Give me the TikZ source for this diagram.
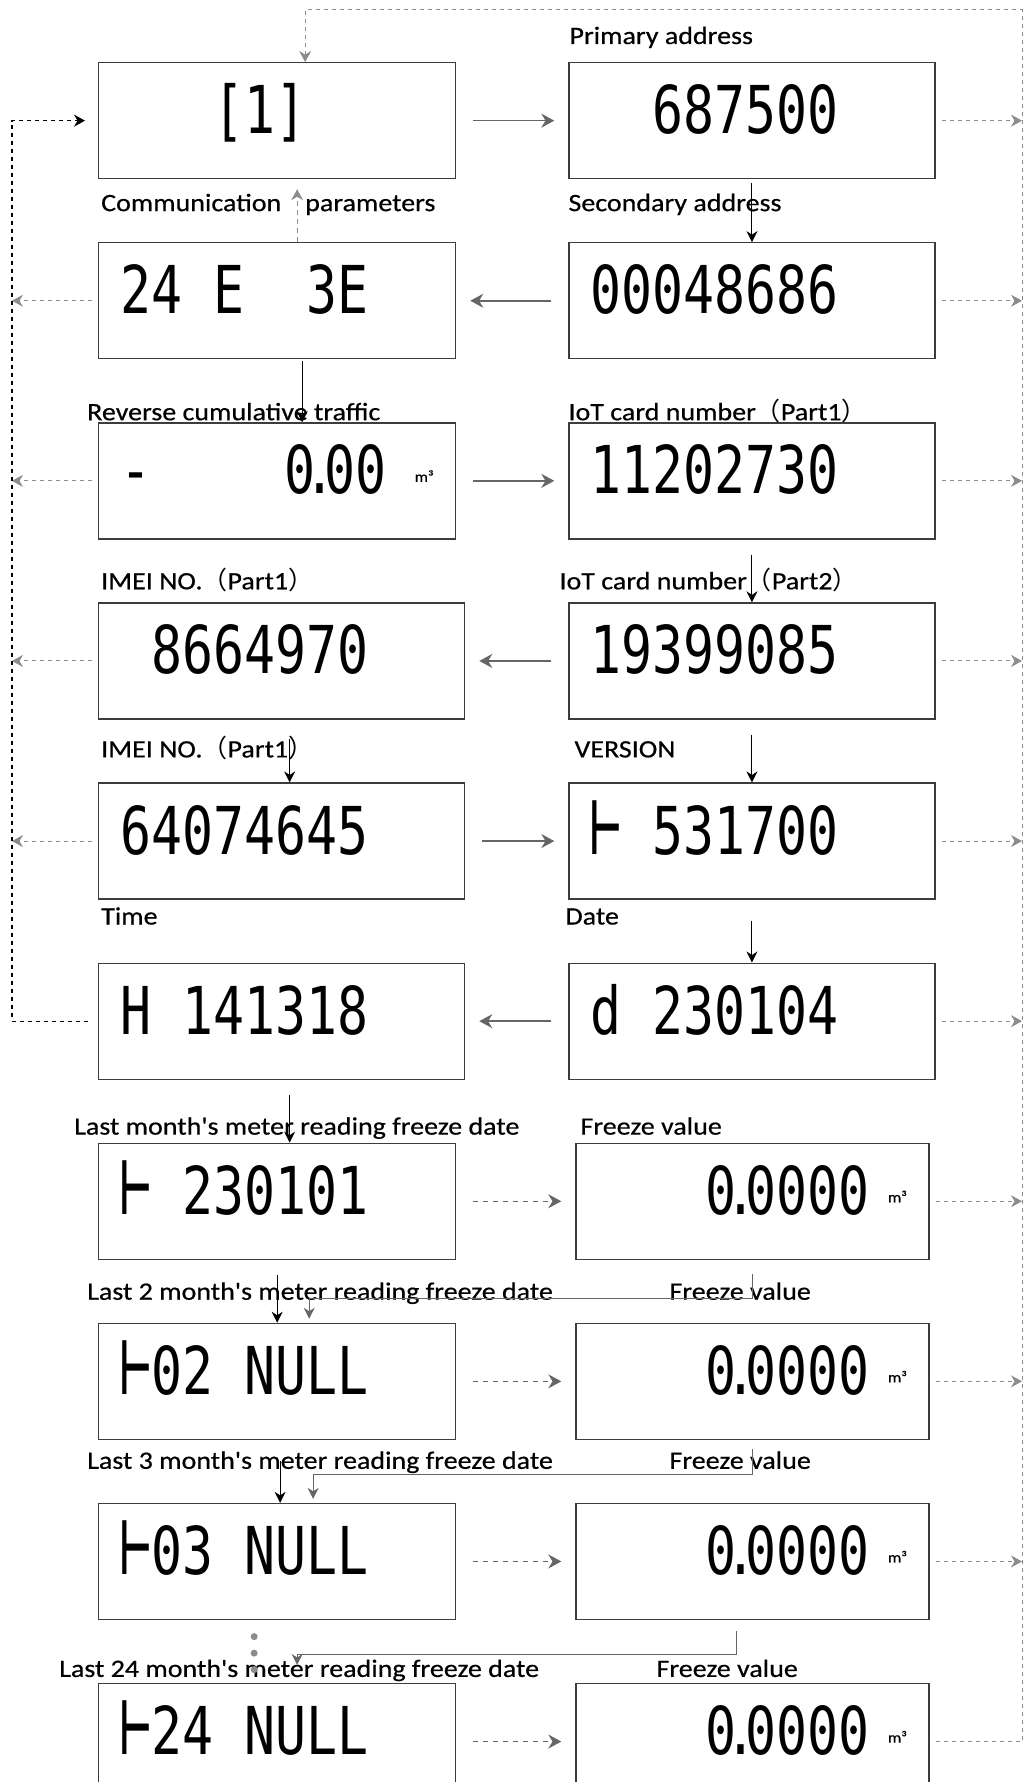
\documentclass[tikz,border=0pt]{standalone}
\usepackage{fontspec}
\usepackage{graphicx}
\usepackage{tikz}
\usetikzlibrary{positioning}
\usetikzlibrary{arrows.meta}

\newfontfamily\capface[FakeStretch=1.12, FakeBold=0.5]{Carlito}
\newfontfamily\lcdface[FakeStretch=0.78]{DejaVu Sans Mono}
\newfontfamily\cjkface{Noto Sans CJK SC}
\newcommand\cell{\hspace{31pt}}
\newcommand\lcddot{\kern-11pt.\kern-11pt}
\newcommand\tee{\scalebox{1}[1.3]{⊢}}
\newcommand\mcube{\raisebox{12pt}{\capface\fontsize{15}{15}\selectfont m³}}
\newcommand\opar{{\cjkface （}}
\newcommand\cpar{{\cjkface ）}}

\definecolor{frame}{HTML}{3C3C3C}
\definecolor{flowgray}{HTML}{666666}
\definecolor{railgray}{HTML}{8C8C8C}

\begin{document}
\begin{tikzpicture}[
    x=1pt, y=1pt,
    lcd/.style={rectangle, draw=frame, line width=1.3pt, minimum height=116pt, inner xsep=22pt, inner ysep=0pt, text height=60pt, text depth=34pt, align=left, font={\lcdface\fontsize{66}{66}\selectfont}},
    narrowbox/.style={lcd, text width=313pt},
    widebox/.style={lcd, text width=322pt},
    slimbox/.style={lcd, text width=309pt},
    heading/.style={font={\capface\fontsize{25}{30}\selectfont}, inner sep=0pt},
    flow/.style={-{Stealth[length=13pt, width=14pt]}, draw=flowgray, line width=1.6pt, shorten <=17pt, shorten >=14pt},
    hop/.style={flow, dash pattern=on 5pt off 5pt, line width=1.3pt},
    feed/.style={-{Stealth[length=11pt, width=11pt]}, line width=1pt, shorten <=15pt},
    jump/.style={-{Stealth[length=11pt, width=11pt]}, draw=flowgray, line width=1pt, shorten >=4pt},
    upflow/.style={-{Stealth[length=11pt, width=12pt]}, draw=railgray, line width=1.2pt, dash pattern=on 5pt off 4pt, shorten >=10pt},
    exit/.style={-{Stealth[length=11pt, width=12pt]}, draw=railgray, line width=1pt, dash pattern=on 4pt off 4pt, shorten <=6pt},
    loopback/.style={-{Stealth[length=11pt, width=12pt]}, line width=1.2pt, dash pattern=on 4pt off 4pt, shorten <=10pt, shorten >=13pt}
]
\useasboundingbox (0,0) rectangle (1024,-1782);

% Displays
\node[narrowbox, anchor=north west] (start) at (98,-62) {\cell\cell\cell[1]};
\node[widebox] (primary) [right=112pt of start.north east, anchor=north west] {\cell\cell687500};
\node[narrowbox] (params) [below=62.8pt of start.south west, anchor=north west] {24\cell E\cell\cell3E};
\node[widebox] (secondary) [below=62.8pt of primary.south west, anchor=north west] {00048686};
\node[narrowbox] (reverse) [below=62.8pt of params.south west, anchor=north west] {-\hfill 0\lcddot00\hspace{28pt}\mcube};
\node[widebox] (iotone) [below=62.8pt of secondary.south west, anchor=north west] {11202730};
\node[widebox] (imeione) [below=62.8pt of reverse.south west, anchor=north west] {\cell8664970};
\node[widebox] (iottwo) [below=62.8pt of iotone.south west, anchor=north west] {19399085};
\node[widebox] (imeitwo) [below=62.8pt of imeione.south west, anchor=north west] {64074645};
\node[widebox] (version) [below=62.8pt of iottwo.south west, anchor=north west] {\tee\cell531700};
\node[widebox] (clock) [below=62.8pt of imeitwo.south west, anchor=north west] {H\cell141318};
\node[widebox] (date) [below=62.8pt of version.south west, anchor=north west] {d\cell230104};
\node[narrowbox] (fdone) [below=62.8pt of clock.south west, anchor=north west] {\tee\cell230101};
\node[slimbox] (fvone) [right=119pt of fdone.north east, anchor=north west] {\hfill 0\lcddot0000\hspace{18pt}\mcube};
\node[narrowbox] (fdtwo) [below=62.8pt of fdone.south west, anchor=north west] {\tee02\cell NULL};
\node[slimbox] (fvtwo) [below=62.8pt of fvone.south west, anchor=north west] {\hfill 0\lcddot0000\hspace{18pt}\mcube};
\node[narrowbox] (fdthree) [below=62.8pt of fdtwo.south west, anchor=north west] {\tee03\cell NULL};
\node[slimbox] (fvthree) [below=62.8pt of fvtwo.south west, anchor=north west] {\hfill 0\lcddot0000\hspace{18pt}\mcube};
\node[narrowbox] (fdlast) [below=62.8pt of fdthree.south west, anchor=north west] {\tee24\cell NULL};
\node[slimbox] (fvlast) [below=62.8pt of fvthree.south west, anchor=north west] {\hfill 0\lcddot0000\hspace{18pt}\mcube};

% Captions
\node[heading] (primcap) [above right=18pt and 1pt of primary.north west, anchor=base west] {Primary address};
\node[heading] (paramcap) [above right=31pt and 3pt of params.north west, anchor=base west] {Communication\hspace{24pt}parameters};
\node[heading] (seccap) [above right=31pt and 0pt of secondary.north west, anchor=base west] {Secondary address};
\node[heading] (revcap) [above right=2pt and -11pt of reverse.north west, anchor=base west] {Reverse cumulative traffic};
\node[heading] (iotonecap) [above right=2pt and 0pt of iotone.north west, anchor=base west] {IoT card number\opar Part1\cpar};
\node[heading] (imeionecap) [above right=13pt and 3pt of imeione.north west, anchor=base west] {IMEI NO.\opar Part1\cpar};
\node[heading] (iottwocap) [above right=13pt and -9pt of iottwo.north west, anchor=base west] {IoT card number\opar Part2\cpar};
\node[heading] (imeitwocap) [above right=25pt and 3pt of imeitwo.north west, anchor=base west] {IMEI NO.\opar Part1\cpar};
\node[heading] (vercap) [above right=25pt and 6pt of version.north west, anchor=base west] {VERSION};
\node[heading] (timecap) [above right=38pt and 3pt of clock.north west, anchor=base west] {Time};
\node[heading] (datecap) [above right=38pt and -3pt of date.north west, anchor=base west] {Date};
\node[heading] (fdonecap) [above right=8pt and -24pt of fdone.north west, anchor=base west] {Last month's meter reading freeze date};
\node[heading] (fvonecap) [above right=8pt and 5pt of fvone.north west, anchor=base west] {Freeze value};
\node[heading] (fdtwocap) [above right=23pt and -11pt of fdtwo.north west, anchor=base west] {Last 2 month's meter reading freeze date};
\node[heading] (fvtwocap) [above right=23pt and 94pt of fvtwo.north west, anchor=base west] {Freeze value};
\node[heading] (fdthreecap) [above right=34pt and -11pt of fdthree.north west, anchor=base west] {Last 3 month's meter reading freeze date};
\node[heading] (fvthreecap) [above right=34pt and 94pt of fvthree.north west, anchor=base west] {Freeze value};
\node[heading] (fdlastcap) [above right=6pt and -39pt of fdlast.north west, anchor=base west] {Last 24 month's meter reading freeze date};
\node[heading] (fvlastcap) [above right=6pt and 81pt of fvlast.north west, anchor=base west] {Freeze value};

% Rails
\coordinate (railtop) at (1022,-10);
\coordinate (leftrail) at (12,-500);

% Flows
\draw[flow] (start) -- (primary);
\draw[flow] (secondary) -- (params);
\draw[flow] (reverse) -- (iotone);
\draw[flow] (iottwo) -- (imeione);
\draw[flow] (imeitwo) -- (version);
\draw[flow] (date) -- (clock);
\draw[hop] (fdone) -- (fvone);
\draw[hop] (fdtwo) -- (fvtwo);
\draw[hop] (fdthree) -- (fvthree);
\draw[hop] (fdlast) -- (fvlast);

% Next display
\draw[feed, shorten <=4pt] (primary) -- (secondary);
\draw[feed, shorten <=2pt] ([xshift=25pt]params.south) -- ([xshift=25pt]reverse.north);
\draw[feed] (iotone) -- (iottwo);
\draw[feed, shorten <=19pt] ([xshift=8pt]imeione.south) -- ([xshift=8pt]imeitwo.north);
\draw[feed] (iottwo) -- (version);
\draw[feed, shorten <=21pt] (version) -- (date);
\draw[feed] ([xshift=8pt]clock.south) -- ([xshift=8pt]clock.south |- fdone.north);
\draw[feed] (fdone) -- (fdtwo);
\draw[feed, shorten <=21pt] ([xshift=3pt]fdtwo.south) -- ([xshift=3pt]fdthree.north);
\draw[upflow] ([xshift=20pt]params.north) -- ([xshift=20pt]start.south);

% Freeze value back to next date
\draw[jump] ([yshift=-14pt]fvone.south) |- ([shift={(32pt,24pt)}]fdtwo.north) -- ([xshift=32pt]fdtwo.north);
\draw[jump] ([yshift=-9pt]fvtwo.south) |- ([shift={(36pt,28pt)}]fdthree.north) -- ([xshift=36pt]fdthree.north);
\draw[jump] ([shift={(-16pt,-11pt)}]fvthree.south) |- ([shift={(20pt,28pt)}]fdlast.north) -- ([shift={(20pt,14pt)}]fdlast.north);
\fill[railgray] ([shift={(-23pt,-16.5pt)}]fdthree.south) circle (3.5pt);
\fill[railgray] ([shift={(-23pt,-33pt)}]fdthree.south) circle (3.5pt);
\fill[railgray] ([shift={(-23pt,-49.5pt)}]fdthree.south) circle (3.5pt);

% Exits
\draw[exit] (primary) -- (primary -| railtop);
\draw[exit] (secondary) -- (secondary -| railtop);
\draw[exit] (iotone) -- (iotone -| railtop);
\draw[exit] (iottwo) -- (iottwo -| railtop);
\draw[exit] (version) -- (version -| railtop);
\draw[exit] (date) -- (date -| railtop);
\draw[exit] (fvone) -- (fvone -| railtop);
\draw[exit] (fvtwo) -- (fvtwo -| railtop);
\draw[exit] (fvthree) -- (fvthree -| railtop);
\draw[exit] (params) -- (params -| leftrail);
\draw[exit] (reverse) -- (reverse -| leftrail);
\draw[exit] (imeione) -- (imeione -| leftrail);
\draw[exit] (imeitwo) -- (imeitwo -| leftrail);
\draw[loopback] (clock.west) -| (leftrail) |- (start.west);
\draw[exit] (fvlast.east) -| (railtop) -| ([xshift=28pt]start.north);

\end{tikzpicture}
\end{document}
